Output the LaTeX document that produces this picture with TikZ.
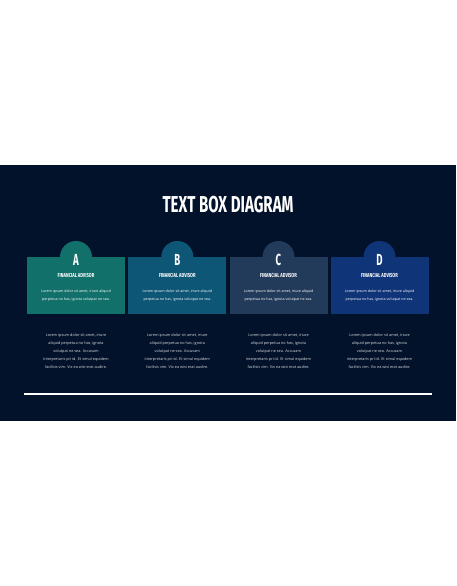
\documentclass[tikz,border=0pt]{standalone}
\usepackage{fontspec}
\setmainfont{Open Sans}
\newfontfamily\headfont{Fira Sans}
\usetikzlibrary{positioning}

\definecolor{slidebg}{RGB}{3,18,43}
\definecolor{colA}{RGB}{17,112,106}
\definecolor{colB}{RGB}{14,86,118}
\definecolor{colC}{RGB}{35,59,91}
\definecolor{colD}{RGB}{15,52,120}

\newcommand{\condensed}[2][0.6]{\scalebox{#1}[1]{\headfont\bfseries #2}}

\tikzset{
  panel/.style={rectangle, minimum width=98pt, minimum height=57pt, inner sep=0pt, fill=#1},
  tab/.style={circle, minimum size=32pt, inner sep=0pt, fill=#1},
  letter/.style={text=white, inner sep=0pt, font=\fontsize{16}{16}\selectfont},
  role/.style={text=white, inner sep=0pt, font=\fontsize{5.8}{5.8}\selectfont},
  bodytext/.style={text=white, inner sep=0pt, align=center, font=\fontsize{3.6}{7.6}\selectfont},
  notetext/.style={text=white!85!slidebg, inner sep=0pt, align=center, font=\fontsize{3.8}{7.85}\selectfont}
}

\begin{document}
\begin{tikzpicture}[x=1pt,y=-1pt]
  \useasboundingbox (0,0) rectangle (456,586);
  \fill[white] (0,0) rectangle (456,586);
  \fill[slidebg] (0,165) rectangle (456,421);

  \node[text=white, inner sep=0pt, font=\fontsize{23}{23}\selectfont] (title) at (228,205) {\condensed[0.655]{TEXT BOX DIAGRAM}};

  \foreach \name/\cx/\col in {A/76/colA, B/177.3/colB, C/278.5/colC, D/379.5/colD} {
    \node[tab=\col] (tab\name) at (\cx,257) {};
    \node[panel=\col] (box\name) at (\cx,285.5) {};
    \node[letter] (let\name) at (\cx,259.5) {\condensed{\name}};
    \node[role] (role\name) at (\cx,275.8) {\condensed[0.71]{FINANCIAL ADVISOR}};
    \node[bodytext] (body\name) at (\cx,295.5) {Lorem ipsum dolor sit amet, iriure aliquid\\perpetua no has, ignota volutpat ne sea.};
    \node[notetext] (note\name) at (\cx,351) {Lorem ipsum dolor sit amet, iriure\\aliquid perpetua no has, ignota\\volutpat ne sea. Accusam\\interpretaris pri id. Et simul equidem\\facilisis vim. Vix ea wisi erat audire.};
  }

  % rule under the columns
  \coordinate (ruleL) at (24,393.7);
  \coordinate (ruleR) at (431.7,393.7);
  \draw[white, line width=2.4pt] (ruleL) -- (ruleR);
\end{tikzpicture}
\end{document}
